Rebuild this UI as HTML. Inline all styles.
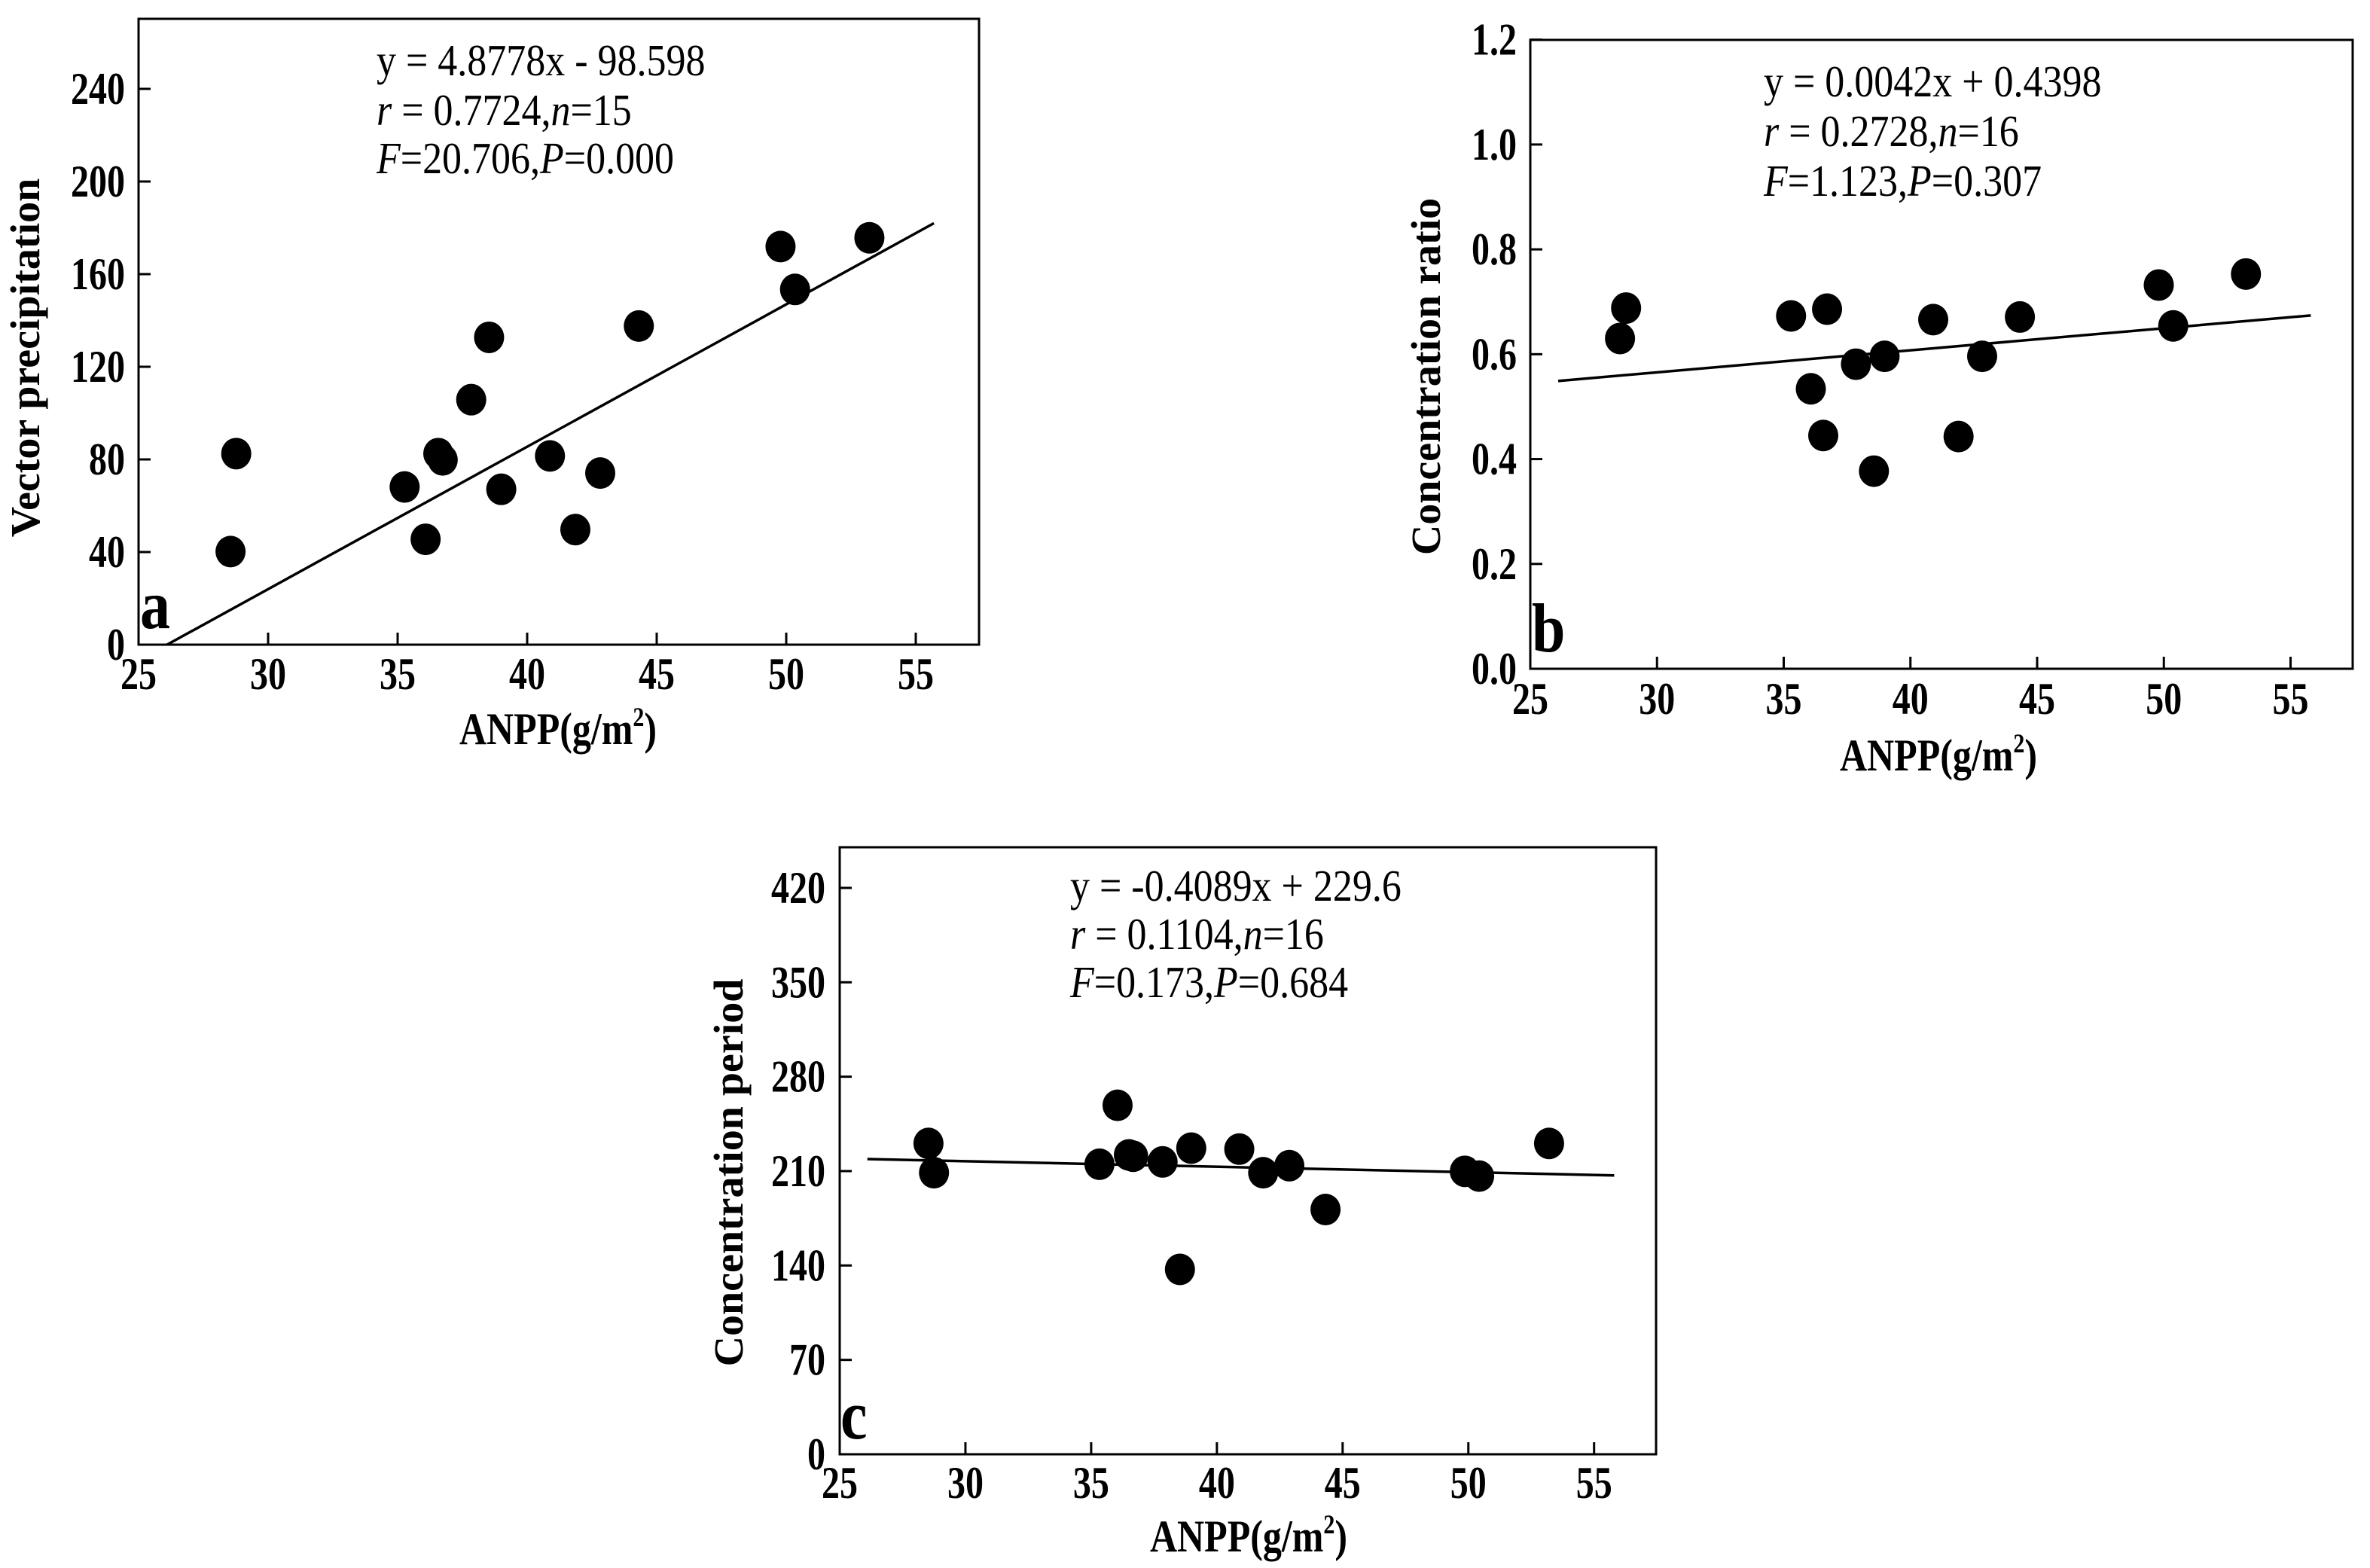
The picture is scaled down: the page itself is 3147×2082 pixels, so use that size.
<!DOCTYPE html>
<html><head><meta charset="utf-8">
<style>
html,body{margin:0;padding:0;background:#fff;}
svg{display:block;}
svg text{font-family:"Liberation Serif","DejaVu Serif",serif;}
</style></head>
<body>
<svg id="fig" width="3147" height="2082" viewBox="0 0 3147 2082" xmlns="http://www.w3.org/2000/svg"></svg>
<script>
// ---- Panel a data ----
const aX = [28.55,28.77,35.27,36.08,36.57,36.74,37.84,38.53,39.0,40.88,41.86,42.82,44.31,49.78,50.34,53.21];
const aY = [40.2,82.5,68.1,45.5,82.5,79.8,105.8,132.7,67.1,81.5,49.7,74.1,137.6,171.9,153.4,175.7];
const aLineX = [26.1,55.7];
const aLineY = [0,182];
const aYTicks = [0,40,80,120,160,200,240];
const aXTicks = [25,30,35,40,45,50,55];
// ---- Panel b data ----
const bX = [28.54,28.78,35.29,36.07,36.56,36.71,37.85,38.56,38.98,40.90,41.90,42.83,44.32,49.80,50.37,53.24];
const bY = [0.630,0.688,0.673,0.534,0.445,0.686,0.581,0.377,0.596,0.666,0.443,0.596,0.671,0.732,0.654,0.753];
const bLineX = [26.1,55.8];
const bLineY = [0.549,0.674];
const bYTicks = [0.0,0.2,0.4,0.6,0.8,1.0,1.2];
const bYLabels = ["0.0","0.2","0.4","0.6","0.8","1.0","1.2"];
const bXTicks = [25,30,35,40,45,50,55];
// ---- Panel c data ----
const cX = [28.53,28.75,35.33,36.05,36.5,36.67,37.84,38.53,38.98,40.89,41.84,42.88,44.32,49.86,50.43,53.21];
const cY = [230.5,208.8,215.1,258.8,222,221.0,216.8,137.1,227.0,226.3,208.8,214.0,181.5,209.8,206.3,230.5];
const cLineX = [26.1,55.8];
const cLineY = [218.9,206.8];
const cYTicks = [0,70,140,210,280,350,420];
const cXTicks = [25,30,35,40,45,50,55];

const NS = "http://www.w3.org/2000/svg";
const svg = document.getElementById('fig');
const FF = '"Liberation Serif","DejaVu Serif",serif';
function mk(tag, attrs, parent, text){
  const e = document.createElementNS(NS, tag);
  for (const k in attrs) e.setAttribute(k, attrs[k]);
  if (tag === 'text') e.setAttribute('font-family', FF);
  if (text !== undefined) e.textContent = text;
  (parent||svg).appendChild(e);
  return e;
}
// vertically stretched text (reference glyphs are taller than wide)
function vtext(x, y, sy, attrs, parent, text){
  const a = Object.assign({x:0, y:0, transform:'translate('+x+','+y+') scale(1,'+sy+')'}, attrs);
  return mk('text', a, parent, text);
}

function panel(cfg){
  const g = mk('g', {});
  
  
  const sx = v => cfg.left + (v - 25) * cfg.xPer;
  const sy = v => cfg.bottom - (v - cfg.y0) * cfg.yPer;
  const frame = mk('rect', {x:cfg.left, y:cfg.top, width:cfg.right-cfg.left, height:cfg.bottom-cfg.top, fill:'none', stroke:'#000', 'stroke-width':3}, g);
  
  
  cfg.xTicks.forEach(t => {
    const x = sx(t);
    const tk = mk('line', {x1:x, x2:x, y1:cfg.bottom, y2:cfg.bottom-16, stroke:'#000', 'stroke-width':3}, g);
    
    
    const lb = vtext(x, cfg.xLabBase, 1.25, {'text-anchor':'middle', 'font-size':48, 'font-weight':'bold'}, g, String(t));
    
    
  });
  cfg.yTicks.forEach((t,i) => {
    const y = sy(t);
    const tk = mk('line', {x1:cfg.left, x2:cfg.left+16, y1:y, y2:y, stroke:'#000', 'stroke-width':3}, g);
    
    
    const lb = vtext(cfg.yLabRight, y+20, 1.25, {'text-anchor':'end', 'font-size':48, 'font-weight':'bold'}, g, cfg.yLabels ? cfg.yLabels[i] : String(t));
    
    
  });
  const ln = mk('line', {x1:sx(cfg.lx[0]), y1:sy(cfg.ly[0]), x2:sx(cfg.lx[1]), y2:sy(cfg.ly[1]), stroke:'#000', 'stroke-width':3.5}, g);
  
  
  cfg.xs.forEach((v,i) => {
    const c = mk('ellipse', {cx:sx(v), cy:sy(cfg.ys[i]), rx:20, ry:21, fill:'#000'}, g);
    
    
  });
  const yt = mk('text', {x:0, y:0, transform:'translate('+cfg.yTitleX+','+cfg.yTitleY+') rotate(-90) scale(1.12,1.1)', 'text-anchor':'middle', 'font-size':50, 'font-weight':'bold'}, g, cfg.yTitle);
  
  
  const xt = vtext(cfg.xTitleX, cfg.xTitleY, 1.2, {'text-anchor':'middle', 'font-size':50, 'font-weight':'bold'}, g);
  
  
  mk('tspan', {}, xt, 'ANPP(g/m');
  mk('tspan', {dy:-20, 'font-size':30}, xt, '2');
  mk('tspan', {dy:20}, xt, ')');
  const pl = vtext(cfg.letterX, cfg.letterY, 1.15, {'font-size':80, 'font-weight':'bold'}, g, cfg.id);
  
  
  const ann = mk('g', {'font-size':52}, g);
  
  
  const t1 = vtext(cfg.annX, cfg.annY[0], 1.15, {}, ann, cfg.eq);
  const t2 = vtext(cfg.annX, cfg.annY[1], 1.15, {}, ann);
  mk('tspan', {'font-style':'italic'}, t2, 'r');
  mk('tspan', {}, t2, ' = ' + cfg.r + ',');
  mk('tspan', {'font-style':'italic'}, t2, 'n');
  mk('tspan', {}, t2, '=' + cfg.n);
  const t3 = vtext(cfg.annX, cfg.annY[2], 1.15, {}, ann);
  mk('tspan', {'font-style':'italic'}, t3, 'F');
  mk('tspan', {}, t3, '=' + cfg.F + ',');
  mk('tspan', {'font-style':'italic'}, t3, 'P');
  mk('tspan', {}, t3, '=' + cfg.P);
}

panel({id:'a', left:184, right:1300, top:25, bottom:856, xPer:34.4, y0:0, yPer:3.075,
  xs:aX, ys:aY, lx:aLineX, ly:aLineY, xTicks:aXTicks, yTicks:aYTicks,
  xLabBase:915, yLabRight:166, yTitle:'Vector precipitation', yTitleX:52, yTitleY:475,
  xTitleX:741, xTitleY:988, letterX:186, letterY:834,
  eq:'y = 4.8778x - 98.598', r:'0.7724', n:'15', F:'20.706', P:'0.000', annX:500, annY:[100,166,230]});

panel({id:'b', left:2032, right:3124, top:53, bottom:888, xPer:33.65, y0:0, yPer:696.1,
  xs:bX, ys:bY, lx:bLineX, ly:bLineY, xTicks:bXTicks, yTicks:bYTicks, yLabels:bYLabels,
  xLabBase:948, yLabRight:2014, yTitle:'Concentration ratio', yTitleX:1912, yTitleY:500,
  xTitleX:2574, xTitleY:1023, letterX:2034, letterY:865,
  eq:'y = 0.0042x + 0.4398', r:'0.2728', n:'16', F:'1.123', P:'0.307', annX:2342, annY:[128,194,260]});

panel({id:'c', left:1115, right:2199, top:1125, bottom:1931, xPer:33.39, y0:0, yPer:1.7906,
  xs:cX, ys:cY, lx:cLineX, ly:cLineY, xTicks:cXTicks, yTicks:cYTicks,
  xLabBase:1989, yLabRight:1096, yTitle:'Concentration period', yTitleX:986, yTitleY:1557,
  xTitleX:1658, xTitleY:2060, letterX:1116, letterY:1910,
  eq:'y = -0.4089x + 229.6', r:'0.1104', n:'16', F:'0.173', P:'0.684', annX:1421, annY:[1196,1260,1324]});
</script>
</body></html>
